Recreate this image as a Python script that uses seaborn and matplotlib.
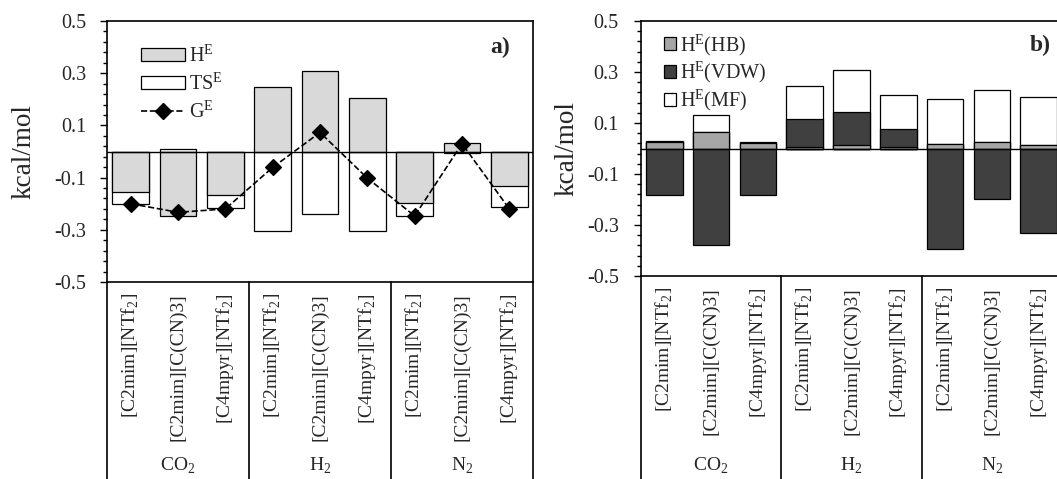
import numpy as np
import matplotlib
matplotlib.use('Agg')
import matplotlib.pyplot as plt
import seaborn as sns
from matplotlib.patches import Patch
from matplotlib.lines import Line2D
from matplotlib.ticker import FixedLocator

# data
gases = ['CO$_{\\mathregular{2}}$', 'H$_{\\mathregular{2}}$', 'N$_{\\mathregular{2}}$']
ionic_liquids = ['[C2mim][NTf$_{\\mathregular{2}}$]', '[C2mim][C(CN)3]', '[C4mpyr][NTf$_{\\mathregular{2}}$]']

# panel a (kcal/mol)
H_E = [-0.156, -0.249, -0.165, 0.248, 0.309, 0.205, -0.198, 0.034, -0.132]
TS_E = [-0.200, 0.010, -0.216, -0.306, -0.240, -0.306, -0.246, -0.006, -0.214]
G_E = [-0.200, -0.233, -0.220, -0.061, 0.073, -0.102, -0.247, 0.030, -0.220]

# panel b contributions (kcal/mol)
HB = [0.025, 0.065, 0.022, 0.005, 0.013, 0.005, 0.018, 0.025, 0.015]
VDW = [-0.184, -0.379, -0.184, 0.109, 0.131, 0.070, -0.396, -0.197, -0.333]
MF = [0.004, 0.068, 0.002, 0.133, 0.164, 0.133, 0.178, 0.206, 0.186]

sns.set_style('ticks')
plt.rcParams['font.family'] = ['Liberation Serif', 'DejaVu Serif']
plt.rcParams['mathtext.fontset'] = 'custom'
plt.rcParams['mathtext.rm'] = 'Liberation Serif'

labels = ionic_liquids * len(gases)
x = np.arange(len(labels))
bw = 0.78

fig = plt.figure(figsize=(10.57, 4.79), dpi=100)
ax1 = fig.add_axes([107 / 1057, 1 - 282 / 479, 426 / 1057, 261 / 479])
ax2 = fig.add_axes([641 / 1057, 1 - 276 / 479, 421 / 1057, 255 / 479])

bar_kw = dict(width=bw, saturation=1, edgecolor='black', linewidth=0.9, errorbar=None)

# ---- panel a
sns.barplot(x=x, y=TS_E, color='white', ax=ax1, **bar_kw)
sns.barplot(x=x, y=H_E, color='#d9d9d9', ax=ax1, **bar_kw)
ax1.axhline(0, color='black', lw=1.0, zorder=3)
sns.pointplot(x=x, y=G_E, color='black', linestyles='--', markers='D',
              markersize=8, linewidth=1.2, errorbar=None, ax=ax1, zorder=5)

handles_a = [Patch(facecolor='#d9d9d9', edgecolor='black', linewidth=0.9, label='H$^{\\mathregular{E}}$'),
             Patch(facecolor='white', edgecolor='black', linewidth=0.9, label='TS$^{\\mathregular{E}}$'),
             Line2D([], [], color='black', ls='--', lw=1.2, marker='D', markersize=8,
                    label='G$^{\\mathregular{E}}$')]
ax1.legend(handles=handles_a, loc='upper left', bbox_to_anchor=(0.06, 0.94), frameon=False,
           fontsize=14.5, handlelength=2.2, handleheight=0.6, handletextpad=0.2,
           labelspacing=0.3, borderaxespad=0)
ax1.text(0.945, 0.90, 'a)', transform=ax1.transAxes, ha='right', va='center',
         fontsize=17, fontweight='bold')

# ---- panel b (stacked by overdrawing cumulative totals)
hb = np.array(HB)
vdw = np.array(VDW)
mf = np.array(MF)
vdw_pos = np.clip(vdw, 0, None)
vdw_neg = np.clip(vdw, None, 0)
sns.barplot(x=x, y=hb + vdw_pos + mf, color='white', ax=ax2, **bar_kw)
sns.barplot(x=x, y=hb + vdw_pos, color='#404040', ax=ax2, **bar_kw)
sns.barplot(x=x, y=hb, color='#a6a6a6', ax=ax2, **bar_kw)
sns.barplot(x=x, y=vdw_neg, color='#404040', ax=ax2, **bar_kw)
ax2.axhline(0, color='black', lw=1.0, zorder=3)

handles_b = [Patch(facecolor='#a6a6a6', edgecolor='black', linewidth=0.9, label='H$^{\\mathregular{E}}$(HB)'),
             Patch(facecolor='#404040', edgecolor='black', linewidth=0.9, label='H$^{\\mathregular{E}}$(VDW)'),
             Patch(facecolor='white', edgecolor='black', linewidth=0.9, label='H$^{\\mathregular{E}}$(MF)')]
ax2.legend(handles=handles_b, loc='upper left', bbox_to_anchor=(0.035, 0.99), frameon=False,
           fontsize=14.5, handlelength=0.6, handleheight=0.6, handletextpad=0.2,
           labelspacing=0.1, borderaxespad=0)
ax2.text(0.924, 0.905, 'b)', transform=ax2.transAxes, ha='left', va='center',
         fontsize=17, fontweight='bold')

# ---- shared axis styling, Excel-like two-level category axis
for ax, glab_y, lpad, tpad in [(ax1, -0.745, 13, 10), (ax2, -0.785, 5, 11)]:
    ax.set_xlim(-0.5, len(labels) - 0.5)
    ax.set_ylim(-0.5, 0.5)
    ax.set_yticks([-0.5, -0.3, -0.1, 0.1, 0.3, 0.5])
    ax.set_yticklabels(['-0.5', '-0.3', '-0.1', '0.1', '0.3', '0.5'])
    ax.yaxis.set_minor_locator(FixedLocator(np.linspace(-0.5, 0.5, 26)))
    ax.tick_params(axis='y', which='major', direction='out', length=5, width=1,
                   labelsize=14.5, pad=tpad, color='black')
    ax.tick_params(axis='y', which='minor', direction='out', length=3, width=1, color='black')
    ax.set_xticks(x)
    ax.set_xticklabels(labels, rotation=90, fontsize=14)
    ax.tick_params(axis='x', length=0, pad=8)
    ax.set_xlabel('')
    ax.set_ylabel('kcal/mol', fontsize=19.5, labelpad=lpad)
    for s in ax.spines.values():
        s.set_visible(True)
        s.set_color('black')
        s.set_linewidth(1.2)
    tr = ax.get_xaxis_transform()
    for b in [-0.5, 2.5, 5.5, 8.5]:
        ax.plot([b, b], [0, -1.2], transform=tr, color='black', lw=1.2, clip_on=False)
    for i, g in enumerate(gases):
        ax.text(3 * i + 1, glab_y, g, transform=tr, ha='center', va='bottom', fontsize=14)

fig.savefig('out.png', dpi=100)
